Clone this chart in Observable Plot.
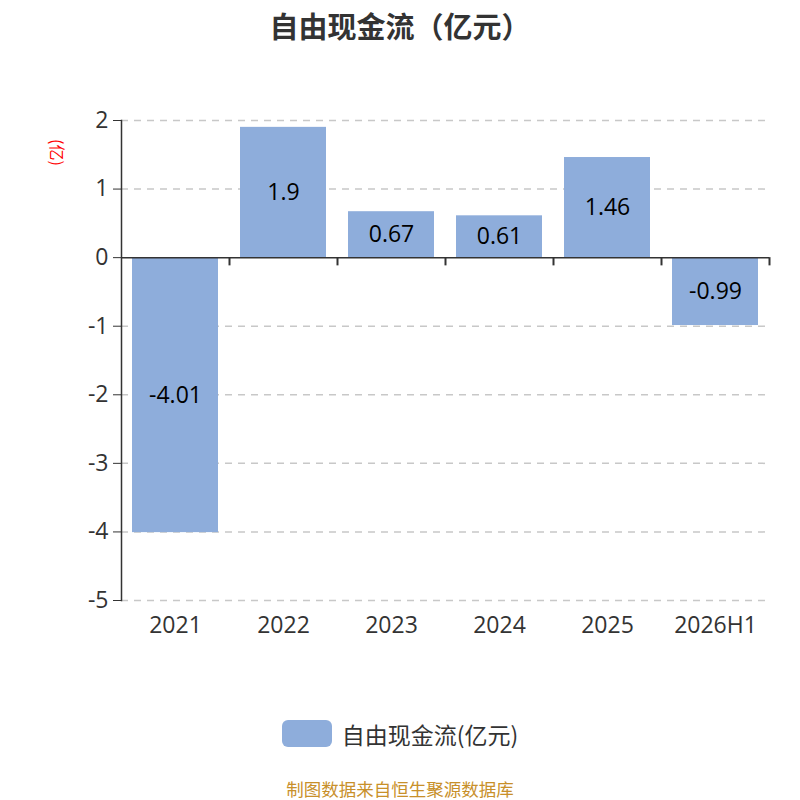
<!DOCTYPE html>
<html><head><meta charset="utf-8">
<script src="https://cdn.jsdelivr.net/npm/d3@7"></script>
<script src="https://cdn.jsdelivr.net/npm/@observablehq/plot@0.6"></script>
<style>
body{margin:0;background:#fff;font-family:"Open Sans","Noto Sans CJK SC",sans-serif;}
#wrap{position:relative;width:800px;height:800px;overflow:hidden;}
#title{position:absolute;top:0;left:0;width:800px;height:50px;line-height:50px;text-align:center;font-size:29px;font-weight:bold;color:#333;font-family:"Noto Sans CJK SC",sans-serif;}
#chart{position:absolute;top:60px;left:0;z-index:1;}
#ylab{position:absolute;left:70px;top:139px;font-size:16px;color:#ff0000;transform:rotate(90deg);transform-origin:left top;white-space:nowrap;z-index:2;font-family:"Noto Sans CJK SC",sans-serif;}
#legend{position:absolute;top:713px;left:0;width:800px;text-align:center;font-size:23px;color:#333;font-family:"Noto Sans CJK SC",sans-serif;}
#legend .sw{display:inline-block;width:50px;height:27px;border-radius:6px;background:#8eaddb;vertical-align:middle;margin-right:10px;}
#legend span{vertical-align:middle;}
#footer{position:absolute;top:779px;left:0;width:800px;line-height:20px;text-align:center;font-size:17.5px;color:#c8902a;font-family:"Noto Sans CJK SC",sans-serif;}
</style></head>
<body>
<div id="wrap">
<div id="title">自由现金流（亿元）</div>
<div id="ylab">(亿)</div>
<div id="chart"></div>
<div id="legend"><div class="sw"></div><span>自由现金流(亿元)</span></div>
<div id="footer">制图数据来自恒生聚源数据库</div>
</div>
<script>
const categories = ["2021","2022","2023","2024","2025","2026H1"];
const values = [-4.01, 1.9, 0.67, 0.61, 1.46, -0.99];
const yTicks = [2,1,0,-1,-2,-3,-4,-5];
const gridTicks = [2,1,-1,-2,-3,-4,-5];
const seriesName = "自由现金流(亿元)";

const data = categories.map((c,i)=>({cat:c, value:values[i]}));

const chart = Plot.plot({
  width:800, height:600,
  marginLeft:121, marginRight:31, marginTop:60, marginBottom:60,
  style:{fontFamily:'"Open Sans","Noto Sans CJK SC",sans-serif', background:"#fff"},
  x:{domain:categories, paddingInner:0.2, paddingOuter:0.1},
  y:{domain:[-5,2]},
  marks:[
    Plot.gridY(gridTicks, {stroke:"#c8c8c8", strokeOpacity:1, strokeDasharray:"7,6", strokeWidth:1.5}),
    Plot.barY(data, {x:"cat", y:"value", fill:"#8eaddb"}),
    Plot.ruleY([0], {stroke:"#333", strokeWidth:1.5}),
    Plot.ruleX(categories, {x:d=>d, y1:0, y2:-0.12, dx:54, stroke:"#333", strokeWidth:2}),
    Plot.frame({anchor:"left", stroke:"#333", strokeWidth:1.5}),
    Plot.axisY({ticks:yTicks, tickSize:8, tickPadding:5, fontSize:23, color:"#333", label:null, tickFormat:d=>String(d)}),
    Plot.axisX({tickSize:0, tickPadding:16, fontSize:23, color:"#333", label:null}),
    Plot.text(data, {x:"cat", y:d=>d.value/2, text:d=>String(d.value), fontSize:23, fill:"#000"})
  ]
});
document.getElementById("chart").appendChild(chart);
</script>
</body></html>
